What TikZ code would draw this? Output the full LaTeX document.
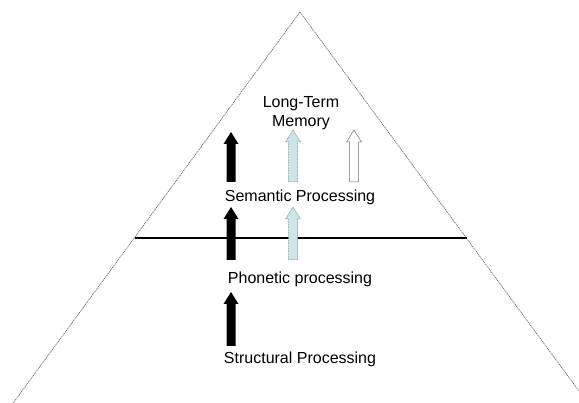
\documentclass[tikz,border=0pt]{standalone}
\usepackage{fontspec}
\setmainfont{Liberation Sans}
\definecolor{lightblue}{HTML}{CDE4E8}
\newcommand\blockup[4]{%
  \path[#1] ({#2-4.5},#3) -- ({#2-4.5},{#4+12}) -- ({#2-7.5},{#4+12}) -- (#2,#4)
    -- ({#2+7.5},{#4+12}) -- ({#2+4.5},{#4+12}) -- ({#2+4.5},#3) -- cycle;}
\begin{document}
\begin{tikzpicture}[x=1pt,y=-1pt,
  side/.style={draw=black!65, line width=0.6pt, dash pattern=on 1.2pt off 0.8pt},
  level/.style={draw=black, line width=1.3pt},
  lbl/.style={font=\fontsize{16}{19.5}\selectfont, inner sep=0pt, align=center},
  blackarrow/.style={fill=black},
  bluearrow/.style={fill=lightblue, draw=black!45, line width=0.5pt, dash pattern=on 1pt off 0.6pt},
  whitearrow/.style={fill=white, draw=black!55, line width=0.5pt}]
\useasboundingbox (0,0) rectangle (579,403);
\fill[white] (0,0) rectangle (579,403);
\begin{scope}
\clip (0,0) rectangle (579,403);
\coordinate (apex) at (300,12);
\coordinate (bl) at (0,421);
\coordinate (br) at (601,421);
\draw[side] (bl) -- (apex) -- (br);
\end{scope}
\coordinate (ll) at (135,238);
\coordinate (lr) at (467,238);
\draw[level] (ll) -- (lr);
\node[lbl] (ltm) at (301,113) {Long-Term\\Memory};
\node[lbl] (sem) at (300,197) {Semantic Processing};
\node[lbl] (pho) at (300,279) {Phonetic processing};
\node[lbl] (str) at (300,359) {Structural Processing};
\blockup{blackarrow}{231}{182}{132}
\blockup{bluearrow}{293}{182}{130}
\blockup{whitearrow}{354}{182}{130}
\blockup{blackarrow}{231}{260}{207}
\blockup{bluearrow}{293}{260}{207}
\blockup{blackarrow}{231}{346}{292}
\end{tikzpicture}
\end{document}
